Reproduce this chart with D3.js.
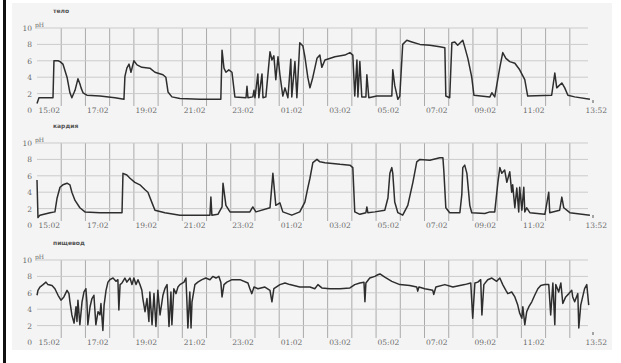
<!DOCTYPE html>
<html>
<head>
<meta charset="utf-8">
<script src="https://cdn.jsdelivr.net/npm/d3@7"></script>
<style>
  body { margin: 0; background: #fff; }
  svg { display: block; }
  .tick text { font-family: "DejaVu Serif", serif; font-size: 7.5px; fill: #6a6a6a; }
</style>
</head>
<body>
<svg id="chart" width="621" height="363"></svg>
<script>
// hours after 15:02 on the time axis, pH on the value axis
var totalHours = 22.833;
var labelHours = [0, 2, 4, 6, 8, 10, 12, 14, 16, 18, 20, 22.833];
var tickLabels = ["15:02", "17:02", "19:02", "21:02", "23:02", "01:02", "03:02", "05:02", "07:02", "09:02", "11:02", "13:52"];
var yTicks = [0, 2, 4, 6, 8, 10];
var panelTitles = ["тело", "кардия", "пищевод"];

var bodyT = [0, 0.08, 0.66, 0.70, 0.87, 0.95, 1.07, 1.24, 1.36, 1.44, 1.57, 1.69, 1.77, 1.82, 1.90, 2.06, 2.60, 3.22, 3.59, 3.63,
  3.71, 3.80, 3.88, 4.00, 4.13, 4.33, 4.66, 4.87, 5.20, 5.32, 5.41, 5.57, 5.90, 6.73, 7.59, 7.64, 7.72, 7.80, 7.92, 8.05,
  8.17, 8.63, 8.67, 8.71, 8.91, 8.96, 9.00, 9.12, 9.16, 9.29, 9.33, 9.45, 9.62, 9.70, 9.78, 9.86, 9.95, 10.03, 10.15, 10.24,
  10.36, 10.48, 10.52, 10.65, 10.73, 10.85, 10.98, 11.06, 11.18, 11.27, 11.39, 11.56, 11.68, 11.76, 11.89, 12.30, 12.71, 12.92, 13.04, 13.12,
  13.21, 13.25, 13.33, 13.41, 13.58, 13.62, 13.70, 14.03, 14.65, 14.69, 14.77, 14.90, 14.98, 15.10, 15.27, 15.48, 15.81, 16.22, 16.63, 16.84,
  16.88, 17.04, 17.13, 17.25, 17.37, 17.58, 17.66, 17.79, 17.95, 18.04, 18.70, 18.78, 18.90, 19.11, 19.23, 19.36, 19.52, 19.73, 19.93, 20.14,
  20.26, 21.25, 21.38, 21.46, 21.67, 21.79, 21.92, 22.20, 22.83];
var bodyPH = [0.8, 1.5, 1.5, 6.0, 6.0, 5.9, 5.6, 4.0, 2.1, 1.5, 2.4, 3.8, 3.2, 2.7, 2.1, 1.8, 1.7, 1.5, 1.3, 4.1,
  5.1, 5.6, 4.6, 6.0, 5.5, 5.2, 5.1, 4.6, 4.3, 4.0, 2.2, 1.6, 1.4, 1.3, 1.3, 7.3, 5.1, 4.6, 4.9, 4.6,
  1.6, 1.5, 2.9, 1.5, 1.6, 2.4, 1.5, 4.4, 1.5, 4.4, 1.5, 1.6, 7.1, 6.1, 6.6, 3.7, 6.5, 4.3, 1.7, 2.7,
  1.5, 6.2, 1.6, 5.9, 1.5, 8.2, 7.8, 6.5, 4.0, 2.7, 4.0, 6.3, 6.7, 5.2, 6.1, 6.5, 6.7, 7.0, 6.7, 1.7,
  6.1, 1.6, 5.9, 1.6, 1.6, 4.3, 1.5, 1.7, 1.7, 4.9, 3.0, 1.3, 1.7, 8.0, 8.5, 8.3, 8.0, 7.9, 7.7, 7.6,
  1.7, 1.5, 8.2, 8.3, 7.9, 8.5, 7.7, 6.3, 4.0, 1.8, 1.6, 2.1, 1.6, 5.2, 7.0, 6.3, 5.9, 5.7, 4.9, 3.7,
  1.7, 1.8, 4.5, 2.7, 3.3, 2.7, 1.8, 1.6, 1.3];

var cardiaT = [0, 0.04, 0.12, 0.54, 0.74, 0.83, 0.95, 1.07, 1.24, 1.36, 1.44, 1.57, 1.77, 1.98, 2.60, 3.51, 3.55, 3.71, 3.84, 4.04,
  4.25, 4.46, 4.58, 4.75, 4.87, 5.28, 5.90, 7.14, 7.18, 7.22, 7.47, 7.64, 7.68, 7.80, 7.97, 8.79, 8.91, 9.04, 9.62, 9.74,
  9.86, 10.03, 10.15, 10.52, 10.85, 11.06, 11.18, 11.27, 11.39, 11.56, 11.68, 11.89, 12.51, 12.92, 13.04, 13.12, 13.33, 13.58, 13.62, 13.66,
  13.95, 14.36, 14.49, 14.57, 14.65, 14.69, 14.77, 14.90, 15.10, 15.31, 15.52, 15.68, 15.81, 16.22, 16.63, 16.76, 16.80, 16.88, 17.04, 17.46,
  17.54, 17.58, 17.66, 17.75, 17.87, 17.95, 18.49, 18.70, 18.90, 19.03, 19.11, 19.19, 19.31, 19.40, 19.52, 19.60, 19.64, 19.73, 19.81, 19.89,
  19.93, 20.02, 20.10, 20.14, 20.22, 20.35, 20.97, 21.13, 21.17, 21.58, 21.67, 21.75, 22.00, 22.83];
var cardiaPH = [5.5, 0.9, 1.2, 1.5, 1.6, 3.3, 4.6, 4.9, 5.1, 4.9, 4.0, 3.0, 2.1, 1.6, 1.5, 1.5, 6.3, 6.1, 5.7, 5.2,
  4.9, 4.3, 4.0, 2.7, 1.8, 1.5, 1.2, 1.2, 3.4, 1.2, 1.3, 2.2, 5.1, 2.4, 1.6, 1.6, 2.2, 1.6, 2.1, 6.3,
  2.4, 2.7, 1.6, 1.2, 1.6, 2.8, 4.5, 5.7, 7.6, 8.0, 7.7, 7.6, 7.4, 7.3, 7.0, 1.6, 1.3, 1.5, 2.2, 1.5,
  1.6, 1.8, 3.3, 6.3, 7.0, 6.3, 2.8, 1.5, 1.2, 2.4, 5.2, 7.7, 8.0, 7.9, 8.2, 8.2, 6.5, 2.1, 1.5, 1.5,
  3.7, 7.0, 7.3, 6.3, 2.4, 1.5, 1.4, 1.6, 1.6, 5.2, 7.0, 6.3, 6.7, 5.2, 6.5, 4.0, 4.9, 2.1, 4.5, 1.6,
  4.6, 1.8, 4.6, 1.6, 2.1, 1.5, 1.3, 4.0, 1.5, 1.8, 3.4, 2.1, 1.5, 1.2];

var esophT = [0, 0.04, 0.12, 0.25, 0.37, 0.45, 0.62, 0.74, 0.87, 0.99, 1.11, 1.24, 1.32, 1.36, 1.44, 1.53, 1.61, 1.65, 1.69, 1.77,
  1.86, 1.94, 2.02, 2.06, 2.10, 2.19, 2.27, 2.35, 2.43, 2.52, 2.60, 2.64, 2.72, 2.77, 2.85, 2.93, 3.01, 3.14, 3.26, 3.34,
  3.38, 3.43, 3.51, 3.63, 3.71, 3.84, 3.92, 4.00, 4.09, 4.17, 4.25, 4.33, 4.37, 4.46, 4.54, 4.62, 4.66, 4.75, 4.83, 4.91,
  4.99, 5.08, 5.20, 5.28, 5.37, 5.45, 5.53, 5.57, 5.65, 5.74, 5.82, 5.90, 6.07, 6.15, 6.19, 6.23, 6.31, 6.36, 6.40, 6.52,
  6.64, 6.81, 6.97, 7.14, 7.26, 7.39, 7.51, 7.59, 7.64, 7.72, 7.84, 8.05, 8.38, 8.71, 8.79, 8.87, 8.96, 9.12, 9.41, 9.62,
  9.70, 9.78, 10.03, 10.24, 10.44, 10.85, 11.27, 11.47, 11.60, 11.76, 12.09, 12.51, 12.92, 13.12, 13.33, 13.50, 13.54, 13.58, 13.74, 13.95,
  14.07, 14.16, 14.36, 14.65, 14.98, 15.39, 15.68, 15.72, 15.77, 16.01, 16.34, 16.38, 16.47, 16.84, 17.17, 17.46, 17.66, 17.91, 17.99, 18.08,
  18.20, 18.32, 18.37, 18.45, 18.61, 18.78, 18.98, 19.11, 19.23, 19.36, 19.44, 19.60, 19.73, 19.85, 19.93, 20.02, 20.06, 20.14, 20.22, 20.31,
  20.43, 20.55, 20.68, 20.80, 20.97, 21.13, 21.21, 21.30, 21.38, 21.42, 21.54, 21.63, 21.71, 21.83, 21.96, 22.08, 22.12, 22.20, 22.33, 22.37,
  22.45, 22.53, 22.61, 22.70, 22.78];
var esophPH = [5.7, 6.3, 6.7, 7.0, 7.3, 7.0, 6.9, 6.5, 5.7, 5.1, 5.5, 6.3, 5.9, 4.9, 3.3, 2.3, 4.3, 2.5, 5.1, 2.1,
  4.9, 6.1, 6.5, 4.9, 2.1, 4.3, 5.3, 5.7, 2.1, 3.7, 3.3, 4.7, 1.4, 4.5, 6.3, 7.3, 7.6, 7.8, 7.4, 7.6,
  3.9, 7.0, 7.2, 7.8, 7.3, 7.8, 7.0, 7.8, 7.0, 7.6, 7.0, 6.3, 5.3, 3.7, 5.3, 2.5, 6.1, 2.1, 5.9, 1.9,
  6.3, 3.3, 5.7, 6.5, 7.0, 1.9, 6.1, 2.1, 6.5, 5.9, 6.7, 7.0, 7.3, 7.8, 4.9, 1.7, 6.1, 1.7, 4.9, 7.0,
  7.3, 7.6, 7.8, 7.6, 8.0, 7.8, 8.0, 7.3, 5.5, 7.0, 7.3, 7.6, 7.6, 7.2, 6.5, 5.9, 6.7, 6.5, 6.7, 6.3,
  4.9, 6.5, 7.0, 7.2, 7.0, 6.7, 6.7, 6.5, 7.0, 6.6, 6.5, 6.5, 6.6, 7.0, 7.2, 7.3, 4.9, 7.2, 7.8, 8.0,
  8.2, 8.3, 7.9, 7.4, 7.0, 6.9, 6.7, 6.2, 6.7, 6.5, 6.3, 5.8, 6.7, 7.0, 6.7, 6.9, 7.0, 7.2, 2.9, 7.2,
  7.3, 7.6, 3.3, 7.0, 7.6, 7.8, 7.4, 7.8, 7.0, 6.3, 5.9, 6.1, 5.5, 4.5, 3.5, 2.9, 4.3, 2.1, 3.7, 4.3,
  4.9, 5.7, 6.5, 6.9, 7.0, 7.0, 3.3, 7.2, 2.1, 7.0, 6.1, 7.2, 4.7, 5.5, 5.9, 6.3, 5.5, 4.9, 5.9, 1.7,
  4.5, 5.5, 6.5, 7.0, 4.5];

var series = [
  { t: bodyT, ph: bodyPH },
  { t: cardiaT, ph: cardiaPH },
  { t: esophT, ph: esophPH }
];

var svg = d3.select('#chart');
var panelBottoms = [110, 225, 342];
var panelHeight = 82;

// scanned sheet tint and the dark left edge
svg.append('rect').attr('x', 12).attr('y', 3).attr('width', 600).attr('height', 347).attr('fill', '#f4f4f4');
svg.append('rect').attr('x', 3).attr('y', 0).attr('width', 3).attr('height', 363).attr('fill', '#111');

var x = d3.scaleLinear().domain([0, totalHours]).range([37, 590]);

series.forEach(function (s, i) {
  var bottom = panelBottoms[i];
  var y = d3.scaleLinear().domain([0, 10]).range([bottom, bottom - panelHeight]);
  var g = svg.append('g');

  // vertical grid, one line each hour
  g.selectAll('line.v')
    .data(d3.range(1, 23))
    .enter().append('line')
      .attr('x1', function (d) { return x(d); })
      .attr('x2', function (d) { return x(d); })
      .attr('y1', y(10))
      .attr('y2', bottom - 4)
      .attr('stroke', '#aaa')
      .attr('stroke-width', 1);

  g.selectAll('line.h')
    .data(yTicks.slice(1))
    .enter().append('line')
      .attr('x1', x(0))
      .attr('x2', x(totalHours) - 2)
      .attr('y1', function (d) { return y(d); })
      .attr('y2', function (d) { return y(d); })
      .attr('stroke', '#cbcbcb')
      .attr('stroke-width', 1);

  var yAxis = d3.axisLeft(y).tickValues(yTicks).tickSize(0).tickPadding(5);
  g.append('g')
    .attr('transform', 'translate(' + x(0) + ',0)')
    .call(yAxis)
    .call(function (a) { a.select('.domain').remove(); });

  g.append('text')
    .attr('x', 35).attr('y', y(10) - 1)
    .attr('font-family', 'DejaVu Serif, serif').attr('font-size', 6).attr('fill', '#666')
    .text('pH');

  var xAxis = d3.axisBottom(x)
    .tickValues(labelHours)
    .tickSize(0)
    .tickFormat(function (d, k) { return tickLabels[k]; });
  var ax = g.append('g')
    .attr('transform', 'translate(0,' + bottom + ')')
    .call(xAxis);
  ax.select('.domain').remove();
  ax.selectAll('.tick text')
    .attr('y', 0).attr('dy', '0.35em')
    .attr('text-anchor', 'start')
    .attr('dx', function (d, k) { return k === labelHours.length - 1 ? -5 : 1; });

  // little end marker above the last label
  g.append('line')
    .attr('x1', x(totalHours) + 3).attr('x2', x(totalHours) + 3)
    .attr('y1', bottom - 10).attr('y2', bottom - 7)
    .attr('stroke', '#555');

  g.append('text')
    .attr('x', 53).attr('y', bottom - 97)
    .attr('font-family', 'DejaVu Sans, sans-serif').attr('font-size', 6)
    .attr('font-weight', 'bold').attr('fill', '#555')
    .text(panelTitles[i]);

  var line = d3.line()
    .x(function (d) { return x(d[0]); })
    .y(function (d) { return y(d[1]); });

  g.append('path')
    .datum(d3.zip(s.t, s.ph))
    .attr('fill', 'none')
    .attr('stroke', '#2e2e2e')
    .attr('stroke-width', 1.5)
    .attr('stroke-linejoin', 'round')
    .attr('d', line);
});
</script>
</body>
</html>
